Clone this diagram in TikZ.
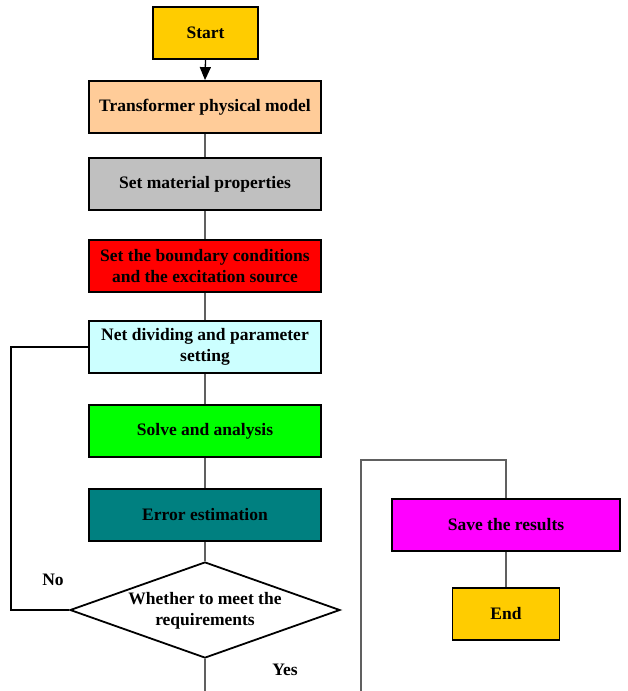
\documentclass[tikz,border=0pt]{standalone}
\usepackage{fontspec}
\setmainfont{Liberation Serif}
\usetikzlibrary{shapes.geometric,arrows.meta}
\definecolor{cStart}{HTML}{FFCC00}
\definecolor{cPeach}{HTML}{FFCC99}
\definecolor{cSilver}{HTML}{C0C0C0}
\definecolor{cRed}{HTML}{FF0000}
\definecolor{cCyan}{HTML}{CCFFFF}
\definecolor{cGreen}{HTML}{00FF00}
\definecolor{cTeal}{HTML}{008080}
\definecolor{cMagenta}{HTML}{FF00FF}
\definecolor{cLine}{HTML}{606060}
\begin{document}
\begin{tikzpicture}[x=1pt,y=-1pt,
  txt/.style={font=\fontsize{17.5}{21.5}\selectfont\bfseries},
  box/.style={draw=black,line width=1.8pt,minimum width=232pt,minimum height=52pt,inner sep=2pt,align=center,txt},
  smallbox/.style={box,minimum width=105pt},
  conn/.style={draw=cLine,line width=1.2pt},
  loop/.style={draw=black,line width=1.2pt},
  lbl/.style={txt,inner sep=0pt}]
\useasboundingbox (0,0) rectangle (627,691);
\node[smallbox,fill=cStart] (start) at (205.5,33) {Start};
\node[box,fill=cPeach] (model) at (205,107) {Transformer physical model};
\node[box,fill=cSilver] (mat) at (205,184) {Set material properties};
\node[box,fill=cRed] (bc) at (205,266) {Set the boundary conditions\\and the excitation source};
\node[box,fill=cCyan] (net) at (205,347) {Net dividing and parameter\\setting};
\node[box,fill=cGreen] (solve) at (205,431) {Solve and analysis};
\node[box,fill=cTeal] (err) at (205,515) {Error estimation};
\node[diamond,draw=black,line width=1.8pt,fill=white,minimum width=270pt,minimum height=96pt,inner sep=0pt,aspect=2.8] (dec) at (205,610) {};
\node[lbl,align=center] (dectext) at (205,611) {Whether to meet the\\requirements};
\node[box,fill=cMagenta,minimum width=228pt] (save) at (506,525) {Save the results};
\node[smallbox,fill=cStart,minimum width=107pt] (end) at (506,614) {End};
\node[lbl] (no) at (53,580) {No};
\node[lbl] (yes) at (285,670) {Yes};
\coordinate (bot1) at (205,691);
\coordinate (bot2) at (361,691);
\coordinate (topr) at (361,460);
\draw[line width=1.3pt,-{Triangle[length=13pt,width=11pt]}] (start.south) -- (model.north);
\draw[conn] (model.south) -- (mat.north);
\draw[conn] (mat.south) -- (bc.north);
\draw[conn] (bc.south) -- (net.north);
\draw[conn] (net.south) -- (solve.north);
\draw[conn] (solve.south) -- (err.north);
\draw[conn] (err.south) -- (dec.north);
\draw[conn] (dec.south) -- (bot1);
\draw[loop] (dec.west) -| (11,347) -- (net.west);
\draw[conn] (bot2) -- (topr) -| (save.north);
\draw[conn] (save.south) -- (end.north);
\end{tikzpicture}
\end{document}
